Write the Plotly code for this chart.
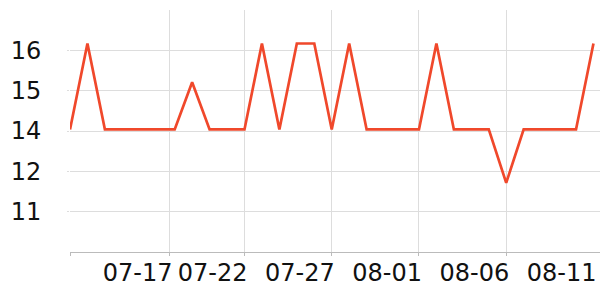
import plotly.graph_objects as go

dates = ["2024-07-12", "2024-07-13", "2024-07-14", "2024-07-15", "2024-07-16", "2024-07-17",
         "2024-07-18", "2024-07-19", "2024-07-20", "2024-07-21", "2024-07-22", "2024-07-23",
         "2024-07-24", "2024-07-25", "2024-07-26", "2024-07-27", "2024-07-28", "2024-07-29",
         "2024-07-30", "2024-07-31", "2024-08-01", "2024-08-02", "2024-08-03", "2024-08-04",
         "2024-08-05", "2024-08-06", "2024-08-07", "2024-08-08", "2024-08-09", "2024-08-10",
         "2024-08-11"]
values = [13.55, 16.32, 13.55, 13.55, 13.55, 13.55, 13.55, 15.07, 13.55, 13.55, 13.55, 16.32,
          13.55, 16.32, 16.32, 13.55, 16.32, 13.55, 13.55, 13.55, 13.55, 16.32, 13.55, 13.55,
          13.55, 11.83, 13.55, 13.55, 13.55, 13.55, 16.32]

x_grid_vals = ["2024-07-12", "2024-07-17 16:50", "2024-07-22", "2024-07-27", "2024-08-01", "2024-08-06"]
x_label_vals = ["2024-07-17 16:50", "2024-07-22", "2024-07-27", "2024-08-01", "2024-08-06", "2024-08-11"]
x_label_text = ["07-17", "07-22", "07-27", "08-01", "08-06", "08-11"]
x_range = ["2024-07-12", "2024-08-11 09:00"]

y_tick_vals = [10.9, 12.2, 13.5, 14.8, 16.1]
y_tick_text = ["11", "12", "14", "15", "16"]
y_range = [9.6, 17.4]

line_color = "#f0482b"
font = dict(family="DejaVu Sans", size=24, color="#111111")

fig = go.Figure()
fig.add_trace(go.Scatter(x=dates, y=values, mode="lines",
                         line=dict(color=line_color, width=2.7),
                         xaxis="x", yaxis="y", hoverinfo="skip"))
fig.add_trace(go.Scatter(x=dates, y=values, mode="lines",
                         line=dict(color=line_color, width=0), opacity=0,
                         xaxis="x2", yaxis="y", hoverinfo="skip", showlegend=False))

fig.update_layout(
    width=600, height=300,
    margin=dict(l=70, r=0, t=10, b=48),
    paper_bgcolor="white", plot_bgcolor="white",
    showlegend=False,
    font=font,
    xaxis=dict(type="date", range=x_range, tickvals=x_grid_vals, showticklabels=False,
               showgrid=True, gridcolor="#dddddd", gridwidth=1,
               ticks="outside", ticklen=3, tickcolor="#bbbbbb",
               showline=True, linecolor="#bbbbbb", linewidth=1, zeroline=False),
    xaxis2=dict(type="date", matches="x", overlaying="x", anchor="y", side="bottom",
                tickvals=x_label_vals, ticktext=x_label_text, tickangle=0,
                ticklabelposition="outside left",
                ticklabelstandoff=4, ticklabelshift=3,
                showgrid=False, showline=False, ticks="", zeroline=False,
                tickfont=font),
    yaxis=dict(range=y_range, tickvals=y_tick_vals, ticktext=y_tick_text,
               showgrid=True, gridcolor="#dddddd", gridwidth=1,
               ticks="outside", ticklen=2, tickcolor="#dddddd",
               showline=False, zeroline=False, tickfont=font,
               ticklabelstandoff=21),
)

fig.write_html("out.html")
